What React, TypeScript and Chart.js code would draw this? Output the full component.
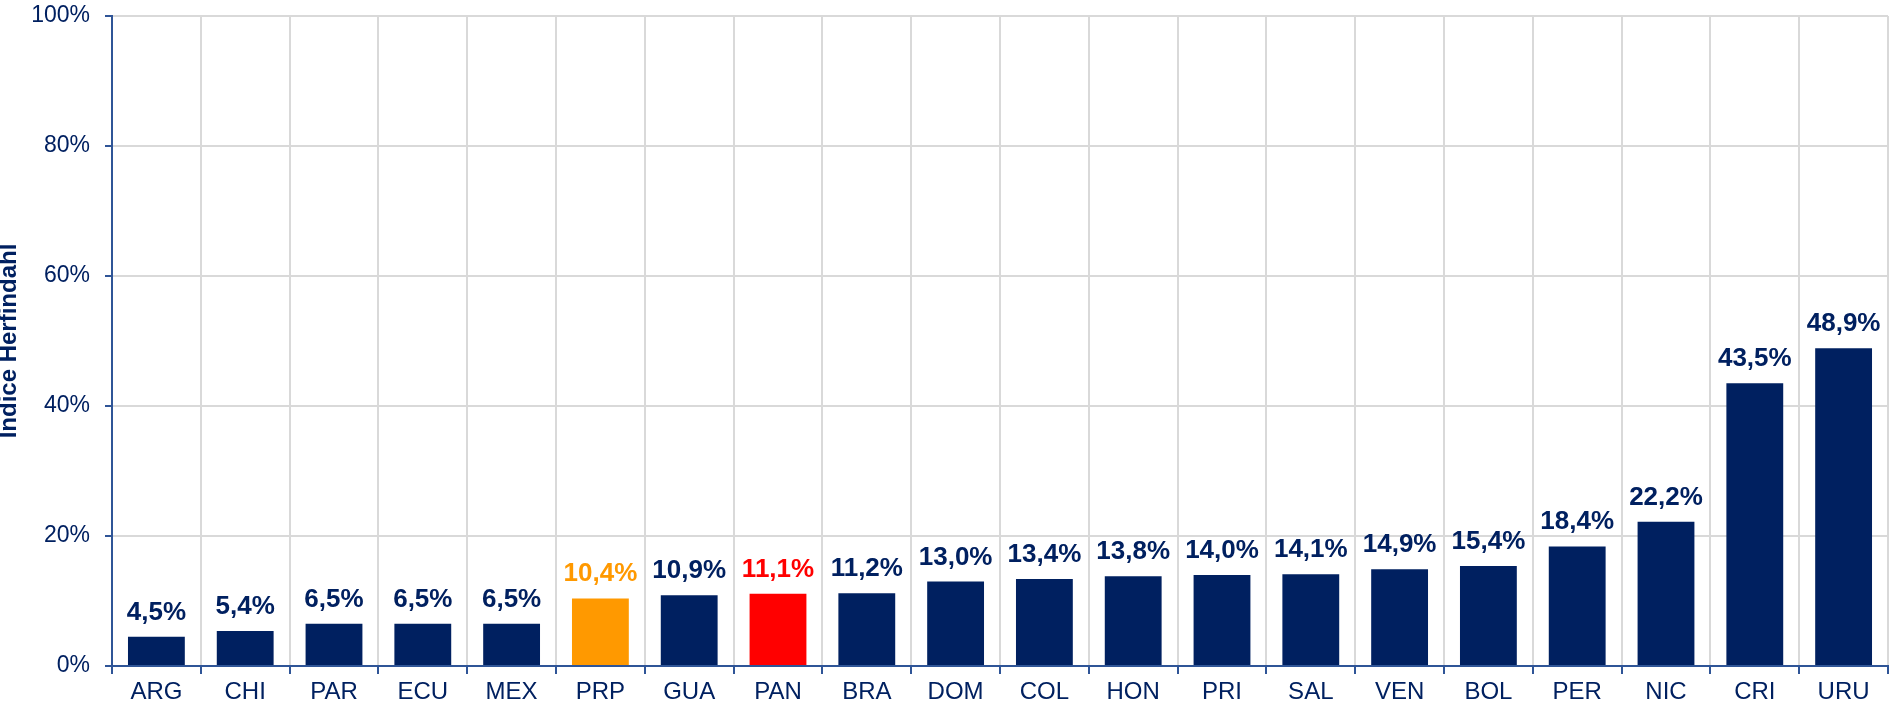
import React, { useEffect, useRef } from "react";
import { Chart, registerables } from "chart.js";

Chart.register(...registerables);

const categories = ["ARG", "CHI", "PAR", "ECU", "MEX", "PRP", "GUA", "PAN", "BRA", "DOM", "COL", "HON", "PRI", "SAL", "VEN", "BOL", "PER", "NIC", "CRI", "URU"];
const values = [4.5, 5.4, 6.5, 6.5, 6.5, 10.4, 10.9, 11.1, 11.2, 13.0, 13.4, 13.8, 14.0, 14.1, 14.9, 15.4, 18.4, 22.2, 43.5, 48.9];
const highlight: Record<string, string> = { PRP: "#FF9900", PAN: "#FF0000" };
const yTicks = [0, 20, 40, 60, 80, 100];

const NAVY = "#002060";
const AXIS = "#2F5597";
const GRID = "#D9D9D9";
const FONT = "'Liberation Sans', Arial, sans-serif";

const colors = categories.map((c) => highlight[c] || NAVY);

const labelPlugin = {
  id: "valueLabels",
  afterDatasetsDraw(chart: any) {
    const ctx = chart.ctx;
    const meta = chart.getDatasetMeta(0);
    ctx.save();
    ctx.font = `bold 26px ${FONT}`;
    ctx.textAlign = "center";
    ctx.textBaseline = "alphabetic";
    meta.data.forEach((bar: any, i: number) => {
      ctx.fillStyle = colors[i];
      const txt = values[i].toFixed(1).replace(".", ",") + "%";
      ctx.fillText(txt, bar.x, bar.y - 17);
    });
    ctx.restore();
  },
};

export default function App() {
  const ref = useRef<HTMLCanvasElement>(null);
  useEffect(() => {
    if (!ref.current) return;
    const chart = new Chart(ref.current, {
      type: "bar",
      data: {
        labels: categories,
        datasets: [
          {
            data: values,
            backgroundColor: colors,
            barPercentage: 0.64,
            categoryPercentage: 1,
          },
        ],
      },
      options: {
        animation: false,
        responsive: true,
        maintainAspectRatio: false,
        layout: { padding: { top: 16, right: 2, left: 0, bottom: 0 } },
        plugins: { legend: { display: false }, tooltip: { enabled: false } },
        scales: {
          x: {
            offset: true,
            grid: {
              offset: true,
              color: GRID,
              lineWidth: 2,
              tickColor: AXIS,
              tickLength: 8,
              drawTicks: true,
            },
            border: { color: AXIS, width: 2 },
            ticks: { color: NAVY, font: { family: FONT, size: 24 }, padding: 4, maxRotation: 0, autoSkip: false },
            afterFit: (s: any) => {
              s.height = 41;
            },
          },
          y: {
            min: 0,
            max: 100,
            afterBuildTicks: (s: any) => {
              s.ticks = yTicks.map((v) => ({ value: v }));
            },
            grid: { color: GRID, lineWidth: 2, tickColor: AXIS, tickLength: 7 },
            border: { color: AXIS, width: 2 },
            ticks: {
              color: NAVY,
              font: { family: FONT, size: 23 },
              padding: 15,
              callback: (v: any) => v + "%",
            },
            title: {
              display: true,
              text: "Indice Herfindahl",
              color: NAVY,
              font: { family: FONT, size: 24, weight: "bold", lineHeight: 0.8 },
              padding: { top: 0, bottom: 0 },
            },
            afterFit: (s: any) => {
              s.width = 112;
              s.paddingTop = 0;
              s.paddingBottom = 0;
            },
          },
        },
      },
      plugins: [labelPlugin],
    });
    return () => chart.destroy();
  }, []);
  return (
    <div style={{ position: "fixed", left: 0, top: 0, width: 1890, height: 707, background: "#fff" }}>
      <canvas ref={ref} />
    </div>
  );
}
